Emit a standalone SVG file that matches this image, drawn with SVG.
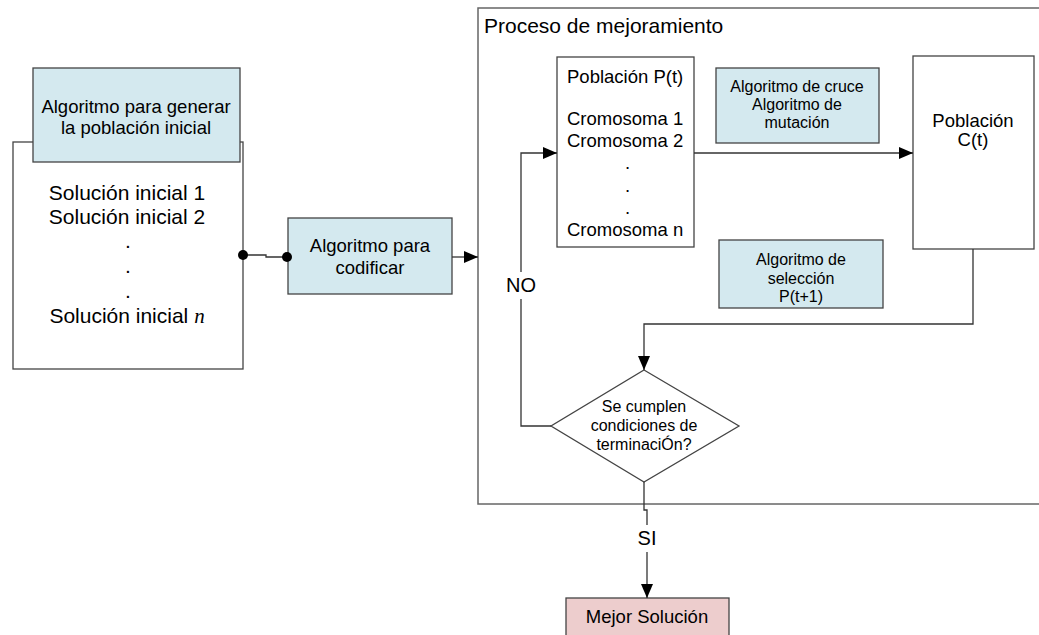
<svg xmlns="http://www.w3.org/2000/svg" width="1039" height="635" viewBox="0 0 1039 635">
<style>
text{font-family:"Liberation Sans",Arial,sans-serif;fill:#000}
.box{fill:#fff;stroke:#444;stroke-width:1.3}
.blue{fill:#D4E9EF;stroke:#444;stroke-width:1.3}
.pink{fill:#EDCDCD;stroke:#444;stroke-width:1.3}
.frame{fill:#fff;stroke:#666;stroke-width:1.5}
.ln{fill:none;stroke:#333;stroke-width:1.3}
.c{text-anchor:middle}
</style>
<defs>
<marker id="ah" markerWidth="14" markerHeight="12" refX="14" refY="6" orient="auto" markerUnits="userSpaceOnUse">
<path d="M0,0 L14,6 L0,12 Z" fill="#000"/>
</marker>
</defs>
<rect width="1039" height="635" fill="#fff"/>

<g id="proceso">
<rect class="frame" x="478" y="8" width="580" height="496"/>
<text x="484" y="33" font-size="21">Proceso de mejoramiento</text>
</g>

<g id="poblacion-inicial">
<rect class="box" x="13" y="142" width="230" height="227"/>
<text class="c" x="127" y="200" font-size="21">Solución inicial 1</text>
<text class="c" x="127" y="224" font-size="21">Solución inicial 2</text>
<text class="c" x="128" y="248" font-size="21">.</text>
<text class="c" x="128" y="273" font-size="21">.</text>
<text class="c" x="128" y="298" font-size="21">.</text>
<text class="c" x="127" y="323" font-size="21">Solución inicial <tspan font-family="Liberation Serif,serif" font-style="italic">n</tspan></text>
</g>

<g id="algoritmo-generar">
<rect class="blue" x="33" y="68" width="207" height="94"/>
<text class="c" x="136" y="113" font-size="18.5">Algoritmo para generar</text>
<text class="c" x="136" y="134" font-size="18.5">la población inicial</text>
</g>

<g id="algoritmo-codificar">
<rect class="blue" x="288" y="218" width="164" height="76"/>
<text class="c" x="370" y="252" font-size="18.5">Algoritmo para</text>
<text class="c" x="370" y="274" font-size="18.5">codificar</text>
</g>

<g id="poblacion-pt">
<rect class="box" x="557" y="57" width="137" height="190"/>
<text x="567" y="83" font-size="18.5">Población P(t)</text>
<text x="567" y="125" font-size="18.5">Cromosoma 1</text>
<text x="567" y="147" font-size="18.5">Cromosoma 2</text>
<text x="625" y="169" font-size="18.5">.</text>
<text x="625" y="192" font-size="18.5">.</text>
<text x="625" y="214" font-size="18.5">.</text>
<text x="567" y="236" font-size="18.5">Cromosoma n</text>
</g>

<g id="algoritmo-cruce">
<rect class="blue" x="716" y="68" width="163" height="75"/>
<text class="c" x="797" y="92" font-size="16">Algoritmo de cruce</text>
<text class="c" x="797" y="110" font-size="16">Algoritmo de</text>
<text class="c" x="797" y="128" font-size="16">mutación</text>
</g>

<g id="poblacion-ct">
<rect class="box" x="913" y="56" width="121" height="193"/>
<text class="c" x="973" y="127" font-size="18.5">Población</text>
<text class="c" x="973" y="146" font-size="18.5">C(t)</text>
</g>

<g id="algoritmo-seleccion">
<rect class="blue" x="719" y="240" width="164" height="68"/>
<text class="c" x="801" y="265" font-size="16">Algoritmo de</text>
<text class="c" x="801" y="284" font-size="16">selección</text>
<text class="c" x="801" y="302" font-size="16">P(t+1)</text>
</g>

<g id="condicion">
<polygon class="box" points="644,370 739,426 644,482 551,426"/>
<text class="c" x="644" y="412" font-size="16">Se cumplen</text>
<text class="c" x="644" y="431" font-size="16">condiciones de</text>
<text class="c" x="644" y="450" font-size="16">terminaciÓn?</text>
</g>

<g id="mejor-solucion">
<rect class="pink" x="566" y="598" width="163" height="45"/>
<text class="c" x="647" y="623" font-size="18.5">Mejor Solución</text>
</g>

<g id="connectors">
<path class="ln" d="M243,255 H266 V257 H287"/>
<circle cx="243" cy="255" r="5" fill="#000"/>
<circle cx="287" cy="257" r="5" fill="#000"/>
<path class="ln" d="M452,257 H478" marker-end="url(#ah)"/>
<path class="ln" d="M694,153 H913" marker-end="url(#ah)"/>
<path class="ln" d="M973,249 V324 H644 V370" marker-end="url(#ah)"/>
<path class="ln" d="M551,426 H521 V299"/>
<path class="ln" d="M521,272 V153 H557" marker-end="url(#ah)"/>
<text class="c" x="521" y="292" font-size="20">NO</text>
<path class="ln" d="M644,482 V510 H647 V525"/>
<path class="ln" d="M647,552 V598" marker-end="url(#ah)"/>
<text class="c" x="647" y="545" font-size="20">SI</text>
</g>
</svg>
